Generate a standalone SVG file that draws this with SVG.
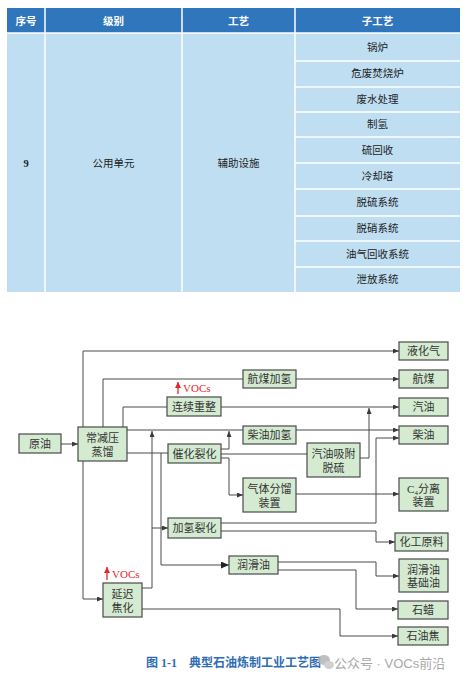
<svg xmlns="http://www.w3.org/2000/svg" width="466" height="685" viewBox="0 0 466 685">
<style>
.hd{fill:#2F76BC}
.bd{fill:#BFDEF2}
.sep{stroke:#ffffff;stroke-width:1.5}
.th{font-family:"Liberation Sans","Noto Sans CJK SC",sans-serif;font-size:10.5px;fill:#ffffff;font-weight:bold;text-anchor:middle}
.td{font-family:"Liberation Sans","Noto Sans CJK SC",sans-serif;font-size:10.5px;fill:#222;text-anchor:middle}
.box{fill:#D4EAD1;stroke:#4a4a4a;stroke-width:1.2}
.ln{fill:none;stroke:#4a4a4a;stroke-width:1}
.t{font-family:"Liberation Serif","Noto Sans CJK SC",serif;font-size:11px;fill:#333;text-anchor:middle}
.red{stroke:#E3262C;stroke-width:1.3;fill:none}
.voc{font-family:"Liberation Serif",serif;font-size:11px;fill:#E3262C}
.cap{font-family:"Liberation Serif","Noto Sans CJK SC",serif;font-size:12px;fill:#2F6DB3;font-weight:bold}
.wm{font-family:"Liberation Sans","Noto Sans CJK SC",sans-serif;font-size:13px;fill:#9a9a9a}
</style>
<defs>
<marker id="a" markerUnits="userSpaceOnUse" markerWidth="7" markerHeight="6" refX="6" refY="2.5" orient="auto"><path d="M0,0 L6,2.5 L0,5 z" fill="#3a3a3a"/></marker>
<marker id="ab" markerUnits="userSpaceOnUse" markerWidth="9" markerHeight="8" refX="8" refY="3.5" orient="auto"><path d="M0,0 L8,3.5 L0,7 z" fill="#222"/></marker>
<marker id="ar" markerUnits="userSpaceOnUse" markerWidth="7" markerHeight="7" refX="6" refY="3" orient="auto"><path d="M0,0 L6,3 L0,6 z" fill="#E3262C"/></marker>
</defs>
<rect width="466" height="685" fill="#ffffff"/>

<g id="table">
<rect class="hd" x="7" y="8" width="453" height="25"/>
<rect class="bd" x="7" y="33" width="453" height="259"/>
<line class="sep" x1="45" y1="8" x2="45" y2="292"/>
<line class="sep" x1="182" y1="8" x2="182" y2="292"/>
<line class="sep" x1="295" y1="8" x2="295" y2="292"/>
<line class="sep" x1="7" y1="33" x2="460" y2="33"/>
<line class="sep" x1="295" y1="61" x2="460" y2="61"/>
<line class="sep" x1="295" y1="87" x2="460" y2="87"/>
<line class="sep" x1="295" y1="112" x2="460" y2="112"/>
<line class="sep" x1="295" y1="137" x2="460" y2="137"/>
<line class="sep" x1="295" y1="163" x2="460" y2="163"/>
<line class="sep" x1="295" y1="189" x2="460" y2="189"/>
<line class="sep" x1="295" y1="216" x2="460" y2="216"/>
<line class="sep" x1="295" y1="241" x2="460" y2="241"/>
<line class="sep" x1="295" y1="267" x2="460" y2="267"/>
<text class="th" x="26" y="24.5">序号</text>
<text class="th" x="113.5" y="24.5">级别</text>
<text class="th" x="238.5" y="24.5">工艺</text>
<text class="th" x="377.5" y="24.5">子工艺</text>
<text class="td" x="26" y="167" style="font-family:'Liberation Serif',serif;font-weight:bold">9</text>
<text class="td" x="113.5" y="167">公用单元</text>
<text class="td" x="238.5" y="167">辅助设施</text>
<text class="td" x="377.5" y="51">锅炉</text>
<text class="td" x="377.5" y="77">危废焚烧炉</text>
<text class="td" x="377.5" y="103">废水处理</text>
<text class="td" x="377.5" y="128">制氢</text>
<text class="td" x="377.5" y="154">硫回收</text>
<text class="td" x="377.5" y="180">冷却塔</text>
<text class="td" x="377.5" y="206">脱硫系统</text>
<text class="td" x="377.5" y="232">脱硝系统</text>
<text class="td" x="377.5" y="258">油气回收系统</text>
<text class="td" x="377.5" y="283">泄放系统</text>
</g>

<g id="connectors">
<path class="ln" d="M61,444 H78" marker-end="url(#a)"/>
<path class="ln" d="M83,427 V351 H399" marker-end="url(#a)"/>
<path class="ln" d="M103,427 V379 H243"/>
<path class="ln" d="M296,379 H399" marker-end="url(#a)"/>
<path class="ln" d="M123,427 V407 H167"/>
<path class="ln" d="M221,407 H399" marker-end="url(#a)"/>
<path class="ln" d="M127,430 H243"/>
<path class="ln" d="M296,430 H399" marker-end="url(#a)"/>
<path class="ln" d="M127,453 H168"/>
<path class="ln" d="M142,588 H152 V431" marker-end="url(#a)"/>
<path class="ln" d="M152,528 H168" marker-end="url(#a)"/>
<path class="ln" d="M161,453 V565 H229" marker-end="url(#ab)"/>
<path class="ln" d="M221,449 H229 V431" marker-end="url(#a)"/>
<path class="ln" d="M221,454 H307"/>
<path class="ln" d="M221,458 H229 V495 H243" marker-end="url(#a)"/>
<path class="ln" d="M360,458 H369 V408" marker-end="url(#a)"/>
<path class="ln" d="M296,494 H399" marker-end="url(#a)"/>
<path class="ln" d="M221,523 H376 V438 H399" marker-end="url(#a)"/>
<path class="ln" d="M221,531 H376 V542 H395" marker-end="url(#a)"/>
<path class="ln" d="M278,562 H376 V576 H399" marker-end="url(#a)"/>
<path class="ln" d="M278,570 H356 V609 H398" marker-end="url(#a)"/>
<path class="ln" d="M142,609 H340 V636 H398" marker-end="url(#a)"/>
<path class="ln" d="M83,461 V599 H103" marker-end="url(#a)"/>
</g>

<g id="voc1">
<path class="red" d="M178,394 V382" marker-end="url(#ar)"/>
<text class="voc" x="183" y="392">VOCs</text>
</g>
<g id="voc2">
<path class="red" d="M107,580 V567" marker-end="url(#ar)"/>
<text class="voc" x="112" y="578">VOCs</text>
</g>

<g id="n-yuanyou"><rect class="box" x="19" y="434" width="42" height="19"/><text class="t" x="40" y="447.5">原油</text></g>
<g id="n-changjianya"><rect class="box" x="78" y="427" width="49" height="34"/><text class="t" x="102.5" y="442">常减压</text><text class="t" x="102.5" y="456">蒸馏</text></g>
<g id="n-lianxu"><rect class="box" x="167" y="397" width="54" height="19"/><text class="t" x="194" y="410.5">连续重整</text></g>
<g id="n-hangmeijq"><rect class="box" x="243" y="370" width="53" height="18"/><text class="t" x="269.5" y="383">航煤加氢</text></g>
<g id="n-chaiyoujq"><rect class="box" x="243" y="426" width="53" height="18"/><text class="t" x="269.5" y="439">柴油加氢</text></g>
<g id="n-cuihua"><rect class="box" x="168" y="444" width="53" height="19"/><text class="t" x="194.5" y="457.5">催化裂化</text></g>
<g id="n-qiyouxf"><rect class="box" x="307" y="443" width="53" height="34"/><text class="t" x="333.5" y="458">汽油吸附</text><text class="t" x="333.5" y="472">脱硫</text></g>
<g id="n-qiti"><rect class="box" x="243" y="478" width="53" height="34"/><text class="t" x="269.5" y="493">气体分馏</text><text class="t" x="269.5" y="507">装置</text></g>
<g id="n-jiaqing"><rect class="box" x="168" y="518" width="53" height="20"/><text class="t" x="194.5" y="532">加氢裂化</text></g>
<g id="n-runhua"><rect class="box" x="229" y="556" width="49" height="18"/><text class="t" x="253.5" y="569">润滑油</text></g>
<g id="n-yanchi"><rect class="box" x="103" y="583" width="39" height="34"/><text class="t" x="122.5" y="598">延迟</text><text class="t" x="122.5" y="612">焦化</text></g>
<g id="n-yehuaqi"><rect class="box" x="399" y="342" width="49" height="18"/><text class="t" x="423.5" y="355">液化气</text></g>
<g id="n-hangmei"><rect class="box" x="399" y="370" width="49" height="18"/><text class="t" x="423.5" y="383">航煤</text></g>
<g id="n-qiyou"><rect class="box" x="399" y="398" width="49" height="18"/><text class="t" x="423.5" y="411">汽油</text></g>
<g id="n-chaiyou"><rect class="box" x="399" y="426" width="49" height="18"/><text class="t" x="423.5" y="439">柴油</text></g>
<g id="n-c4"><rect class="box" x="399" y="478" width="49" height="33"/><text class="t" x="423.5" y="492.5">C<tspan font-size="7" dy="2">4</tspan><tspan dy="-2">分离</tspan></text><text class="t" x="423.5" y="506">装置</text></g>
<g id="n-huagong"><rect class="box" x="395" y="533" width="53" height="18"/><text class="t" x="421.5" y="546">化工原料</text></g>
<g id="n-jichuyou"><rect class="box" x="399" y="559" width="49" height="33"/><text class="t" x="423.5" y="573.5">润滑油</text><text class="t" x="423.5" y="587">基础油</text></g>
<g id="n-shila"><rect class="box" x="398" y="601" width="50" height="18"/><text class="t" x="423" y="614">石蜡</text></g>
<g id="n-shiyoujiao"><rect class="box" x="398" y="627" width="50" height="18"/><text class="t" x="423" y="640">石油焦</text></g>

<g id="caption">
<text class="cap" x="146" y="667">图 1-1</text>
<text class="cap" x="189" y="667">典型石油炼制工业工艺图</text>
</g>
<g id="watermark" opacity="0.85">
<ellipse cx="324" cy="660" rx="6" ry="5" fill="#b5b5b5"/>
<ellipse cx="329" cy="665" rx="5" ry="4" fill="#c8c8c8"/>
<text class="wm" x="334" y="668">公众号 · VOCs前沿</text>
</g>
</svg>
